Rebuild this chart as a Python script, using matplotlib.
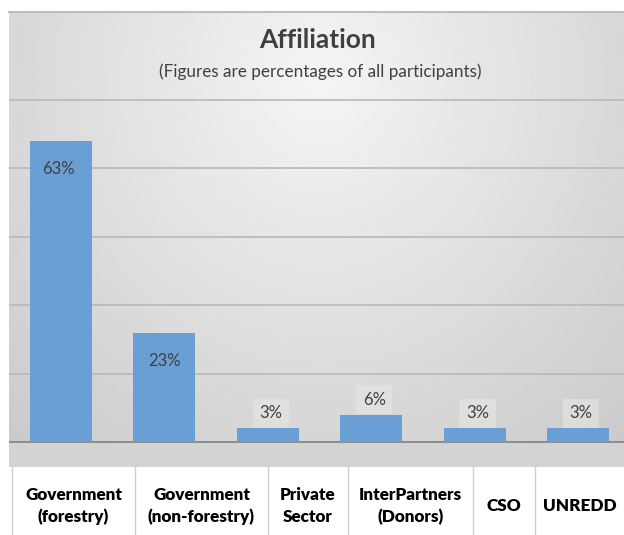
import numpy as np
import matplotlib.pyplot as plt
from matplotlib.lines import Line2D

# data: counts of participants (35 in total), shown as percentages
categories = ["Government\n(forestry)", "Government\n(non-forestry)", "Private\nSector",
              "InterPartners\n(Donors)", "CSO", "UNREDD"]
counts = [22, 8, 1, 2, 1, 1]
pct_labels = ["63%", "23%", "3%", "6%", "3%", "3%"]
grid_ticks = [0, 5, 10, 15, 20, 25]

W, H = 624, 535
BAR_COLOR = "#6a9fd6"
TEXT_COLOR = "#404040"

fig = plt.figure(figsize=(W / 100, H / 100), dpi=100)
fig.patch.set_facecolor("white")

px_per_unit = 13.68
panel_top, baseline, panel_bottom = 12, 442, 467
ax_left, ax_right = 9.3, 629.7

# main axes covers the grey panel; ylim chosen so baseline sits at pixel 442
ymin = -(panel_bottom - baseline) / px_per_unit
ymax = (baseline - panel_top) / px_per_unit
ax = fig.add_axes([ax_left / W, 1 - panel_bottom / H,
                   (ax_right - ax_left) / W, (panel_bottom - panel_top) / H])

# grey radial-ish background
gy, gx = np.mgrid[0:1:200j, 0:1:300j]
r = np.sqrt(((gx - 0.5) / 0.75) ** 2 + ((gy - 0.85) / 1.1) ** 2)
shade = 0.96 - 0.17 * np.clip(r, 0, 1)
shade[gy < 0.055] = 0.83
ax.imshow(shade, cmap="gray", vmin=0, vmax=1, origin="lower", aspect="auto",
          extent=[0, 1, 0, 1], transform=ax.transAxes, zorder=0, interpolation="bilinear")

x = np.arange(len(counts))
ax.bar(x, counts, width=0.6, color=BAR_COLOR, zorder=3)
ax.set_xlim(-0.5, len(counts) - 0.5)
ax.set_ylim(ymin, ymax)

for t in grid_ticks:
    ax.axhline(t, color="#8c8c8c" if t == 0 else "#b8b8b8",
               lw=1.4 if t == 0 else 1.2, zorder=2)

for xi, c, lab in zip(x, counts, pct_labels):
    if c > 5:
        ax.annotate(lab, (xi, c), xytext=(-3 if c > 20 else 0, -28), textcoords="offset pixels",
                    ha="center", va="center", fontsize=12, color=TEXT_COLOR,
                    family="Lato", zorder=5)
    else:
        ax.annotate(lab, (xi, c), xytext=(3, 15), textcoords="offset pixels",
                    ha="center", va="center", fontsize=12, color=TEXT_COLOR,
                    family="Lato", zorder=2.5,
                    bbox=dict(boxstyle="square,pad=0.4", fc="#e6e6e6", ec="none", alpha=0.6))

ax.set_xticks([])
ax.set_yticks([])
for s in ax.spines.values():
    s.set_visible(False)

# panel top border
fig.add_artist(Line2D([ax_left / W, 1], [1 - panel_top / H] * 2, color="#bdbdbd", lw=1.5))

fig.text(318 / W, 1 - 40 / H, "Affiliation", ha="center", va="center",
         fontsize=19, fontweight="bold", color=TEXT_COLOR, family="Lato")
fig.text(320 / W, 1 - 72 / H, "(Figures are percentages of all participants)",
         ha="center", va="center", fontsize=12.3, color=TEXT_COLOR, family="Lato")

# category table below the chart
col_edges = [12, 135, 268, 348, 473, 535, 624]
for e in col_edges[:-1]:
    fig.add_artist(Line2D([e / W] * 2, [0, 1 - panel_bottom / H], color="#d0d0d0", lw=1))
for i, lab in enumerate(categories):
    cx = (col_edges[i] + col_edges[i + 1]) / 2
    fig.text(cx / W, 1 - 506 / H, lab, ha="center", va="center", fontsize=12.3,
             fontweight="heavy", color="black", family="Lato", linespacing=1.45)

fig.savefig("out.png", dpi=100)
